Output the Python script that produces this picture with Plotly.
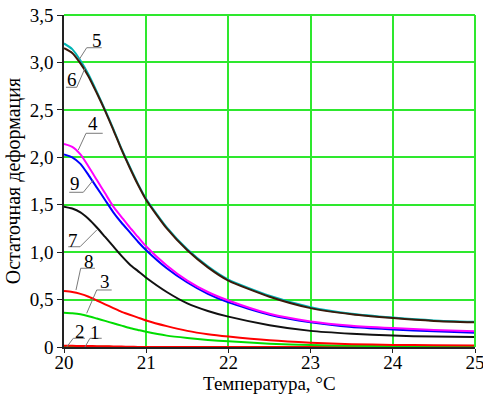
import plotly.graph_objects as go

# ---- data ----
temperature = [20.0, 20.1, 20.2, 20.3, 20.4, 20.5, 20.6, 20.7, 20.8, 20.9, 21.0,
               21.25, 21.5, 21.75, 22.0, 22.5, 23.0, 23.5, 24.0, 24.5, 25.0]

curve_5 = [3.20, 3.14, 3.02, 2.87, 2.69, 2.50, 2.30, 2.09, 1.90, 1.72, 1.56,
           1.26, 1.03, 0.85, 0.71, 0.54, 0.42, 0.35, 0.31, 0.28, 0.265]
curve_6 = [3.15, 3.10, 2.99, 2.85, 2.675, 2.49, 2.29, 2.08, 1.89, 1.71, 1.55,
           1.25, 1.02, 0.84, 0.70, 0.53, 0.41, 0.345, 0.305, 0.275, 0.26]
curve_4 = [2.14, 2.11, 2.03, 1.90, 1.76, 1.62, 1.48, 1.37, 1.26, 1.16, 1.06,
           0.86, 0.70, 0.58, 0.49, 0.35, 0.27, 0.225, 0.20, 0.18, 0.165]
curve_9 = [2.03, 2.00, 1.93, 1.81, 1.68, 1.55, 1.42, 1.31, 1.21, 1.11, 1.02,
           0.83, 0.68, 0.56, 0.47, 0.34, 0.26, 0.21, 0.185, 0.165, 0.15]
curve_7 = [1.48, 1.46, 1.42, 1.35, 1.26, 1.16, 1.06, 0.96, 0.87, 0.80, 0.73,
           0.58, 0.46, 0.38, 0.32, 0.23, 0.17, 0.14, 0.12, 0.11, 0.105]
curve_8 = [0.59, 0.58, 0.56, 0.53, 0.49, 0.45, 0.41, 0.37, 0.34, 0.31, 0.28,
           0.22, 0.17, 0.135, 0.11, 0.07, 0.045, 0.03, 0.022, 0.018, 0.015]
curve_3 = [0.36, 0.355, 0.345, 0.325, 0.30, 0.275, 0.25, 0.225, 0.20, 0.18, 0.16,
           0.12, 0.095, 0.075, 0.06, 0.035, 0.02, 0.012, 0.008, 0.005, 0.004]
curve_2 = [0.012, 0.012, 0.011, 0.010, 0.009, 0.008, 0.006, 0.004, 0.002, 0.001, 0.0,
           0.0, 0.0, 0.0, 0.0, 0.0, 0.0, 0.0, 0.0, 0.0, 0.0]
curve_1 = [0.003, 0.003, 0.003, 0.002, 0.002, 0.002, 0.001, 0.001, 0.0, 0.0, 0.0,
           0.0, 0.0, 0.0, 0.0, 0.0, 0.0, 0.0, 0.0, 0.0, 0.0]

x_ticks = [20, 21, 22, 23, 24, 25]
y_ticks = [0, 0.5, 1.0, 1.5, 2.0, 2.5, 3.0, 3.5]
y_tick_text = ["0", "0,5", "1,0", "1,5", "2,0", "2,5", "3,0", "3,5"]

# curve labels: text position, underline (x0, x1, y), anchor point on curve
label_names = ["5", "6", "4", "9", "7", "8", "3", "2", "1"]
label_text_x = [20.40, 20.094, 20.356, 20.134, 20.113, 20.308, 20.499, 20.195, 20.383]
label_text_y = [3.236, 2.815, 2.358, 1.726, 1.128, 0.899, 0.688, 0.163, 0.158]
underline_near_x = [20.276, 20.155, 20.268, 20.235, 20.195, 20.203, 20.398, 20.113, 20.316]
underline_far_x = [20.459, 20.024, 20.471, 20.064, 20.052, 20.377, 20.58, 20.255, 20.459]
underline_y = [3.155, 2.738, 2.253, 1.631, 1.057, 0.830, 0.601, 0.092, 0.092]
anchor_x = [20.186, 20.255, 20.174, 20.356, 20.398, 20.146, 20.276, 20.033, 20.255]
anchor_y = [3.033, 2.938, 2.077, 1.760, 1.233, 0.601, 0.355, 0.0, 0.0]

FONT = "'Liberation Serif', 'Times New Roman', 'DejaVu Serif', serif"
GRID = "#2ee82e"

series = [
    (curve_1, "#00dd00"),
    (curve_2, "#ff0000"),
    (curve_3, "#00dd00"),
    (curve_8, "#ff0000"),
    (curve_7, "#111111"),
    (curve_9, "#0000ff"),
    (curve_4, "#ff00ff"),
    (curve_5, "#00b4b4"),
    (curve_6, "#3a1a0a"),
]

fig = go.Figure()
for vals, col in series:
    fig.add_trace(go.Scatter(x=temperature, y=vals, mode="lines",
                             line=dict(color=col, width=2, shape="spline", smoothing=0.6),
                             showlegend=False, hoverinfo="skip"))

for i, name in enumerate(label_names):
    fig.add_trace(go.Scatter(x=[anchor_x[i], underline_near_x[i], underline_far_x[i]],
                             y=[anchor_y[i], underline_y[i], underline_y[i]],
                             mode="lines", line=dict(color="#7a7a7a", width=1),
                             showlegend=False, hoverinfo="skip"))
    fig.add_annotation(x=label_text_x[i], y=label_text_y[i], text=name, showarrow=False,
                       font=dict(family=FONT, size=19, color="black"),
                       xanchor="center", yanchor="middle")

# x-axis title
fig.add_annotation(xref="paper", yref="paper", x=0.5, y=0, yshift=-36,
                   text="Температура, °С", showarrow=False,
                   font=dict(family=FONT, size=19, color="black"),
                   xanchor="center", yanchor="middle", borderpad=0)

fig.add_shape(type="line", xref="paper", yref="paper", x0=0, x1=1, y0=1, y1=1,
              line=dict(color=GRID, width=2))
fig.add_shape(type="line", xref="paper", yref="paper", x0=1, x1=1, y0=0, y1=1,
              line=dict(color=GRID, width=2))

fig.update_layout(
    width=483, height=394,
    margin=dict(l=64, r=8, t=15, b=47),
    paper_bgcolor="white", plot_bgcolor="white",
    font=dict(family=FONT, color="black"),
    xaxis=dict(range=[20, 25], tickvals=x_ticks, ticktext=[str(v) for v in x_ticks],
               showgrid=True, gridcolor=GRID, gridwidth=1.5, zeroline=False,
               showline=True, linecolor="#222222", linewidth=1.5,
               ticks="outside", ticklen=4, tickcolor="#222222",
               tickfont=dict(family=FONT, size=19), layer="below traces",
               ticklabeloverflow="allow", automargin=False, ticklabelstandoff=-7),
    yaxis=dict(range=[0, 3.5], tickvals=y_ticks, ticktext=y_tick_text,
               showgrid=True, gridcolor=GRID, gridwidth=1.5, zeroline=False,
               showline=True, linecolor="#222222", linewidth=1.5,
               ticks="outside", ticklen=5, tickcolor="#222222",
               tickfont=dict(family=FONT, size=19), layer="below traces",
               ticklabeloverflow="allow", automargin=False,
               title=dict(text="Остаточная деформация", font=dict(family=FONT, size=20), standoff=4)),
)

fig.write_html("out.html", post_script="document.body.style.margin='0';",
               config={"displayModeBar": False})
